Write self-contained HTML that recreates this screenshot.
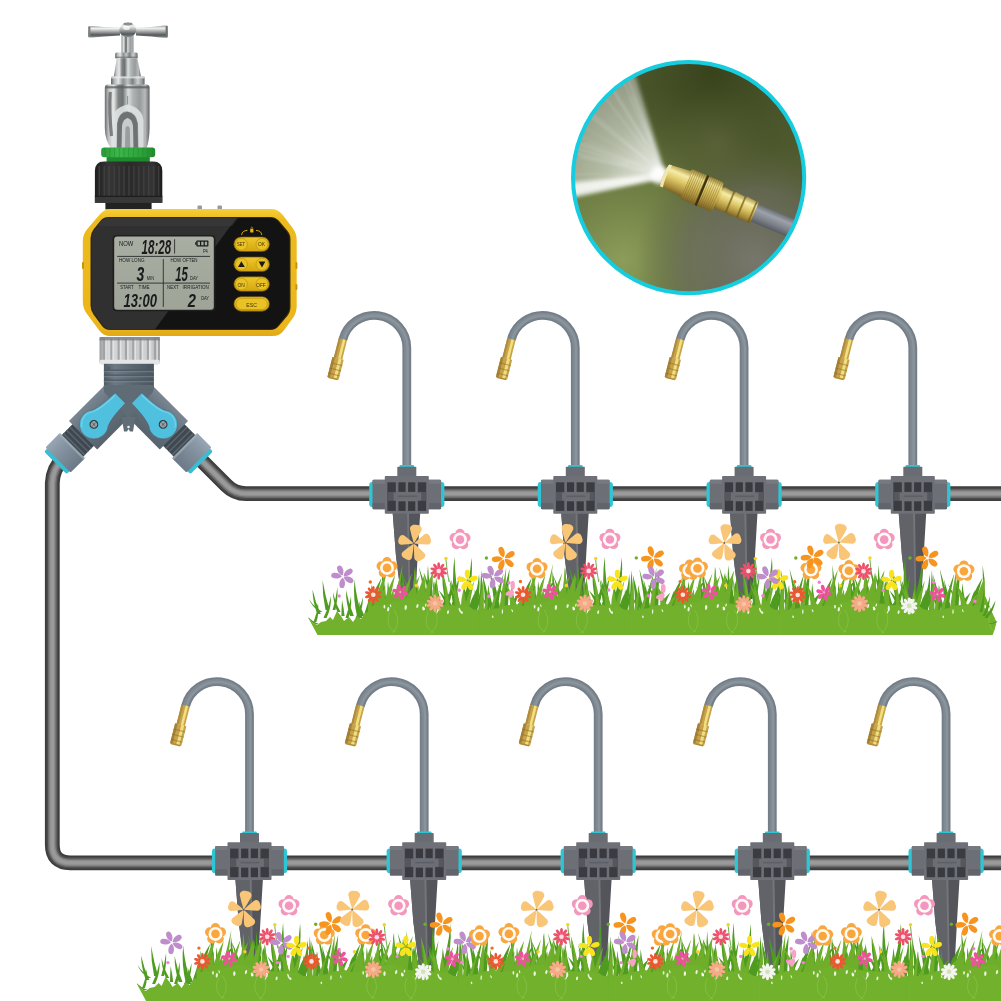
<!DOCTYPE html>
<html lang="en"><head><meta charset="utf-8"><title>Irrigation kit</title>
<style>html,body{margin:0;padding:0;background:#fff;overflow:hidden}svg{display:block}text{font-family:"Liberation Sans",sans-serif}</style>
</head><body>
<svg width="1001" height="1001" viewBox="0 0 1001 1001">
<rect width="1001" height="1001" fill="#ffffff"/>
<defs>
<g id="spr">
<path d="M-14.1,18 L13.4,18 L10.9,60 L8.5,104 L-5.4,104 L-10.9,60 Z" fill="#53555b"/>
<path d="M-14.1,18 L1.2,18 L2.4,104 L-5.4,104 L-10.9,60 Z" fill="#616369"/>
<path d="M0.2,18 L2.2,18 L3.6,104 L1.8,104 Z" fill="#73757b"/>
<path d="M0,-27 L0,-147.1 A32.5,32.5 0 0 0 -63.99,-155.13" fill="none" stroke="#747e88" stroke-width="8.8"/>
<path d="M0,-27 L0,-147.1 A32.5,32.5 0 0 0 -63.99,-155.13" fill="none" stroke="#808a93" stroke-width="5.2"/>
<path d="M0,-27 L0,-147.1 A32.5,32.5 0 0 0 -63.99,-155.13" fill="none" stroke="#8a949d" stroke-width="2.2" transform="translate(0.8,0.3)"/>
<g transform="translate(-63.99,-155.13) rotate(104.30)">
<rect x="-0.5" y="-4.3" width="20" height="8.6" fill="#c8a24a"/>
<rect x="-0.5" y="-2.6" width="20" height="2.6" fill="#f0e07e"/>
<rect x="-0.5" y="2.4" width="20" height="1.9" fill="#ad8a3e"/>
<rect x="19.2" y="-5.8" width="20.6" height="11.6" rx="0.8" fill="#c8a24a"/>
<rect x="19.2" y="-3.6" width="20.6" height="3.0" fill="#efdf80"/>
<rect x="19.2" y="3.2" width="20.6" height="2.6" fill="#a58238"/>
<rect x="24.6" y="-5.8" width="1.2" height="11.6" fill="#8c6a22" opacity="0.5"/>
<rect x="30.0" y="-5.8" width="1.2" height="11.6" fill="#8c6a22" opacity="0.5"/>
<rect x="35.2" y="-5.8" width="1.2" height="11.6" fill="#8c6a22" opacity="0.5"/>
<rect x="39" y="-4.8" width="1.6" height="9.6" fill="#b08a34"/>
</g>
<rect x="-37.6" y="-12.8" width="75.2" height="24.8" rx="3" fill="#2ec6d4"/>
<rect x="-34.3" y="-15.1" width="68.6" height="29.5" rx="1.2" fill="#6d6f76"/>
<rect x="-34.3" y="-15.1" width="68.6" height="4" rx="1.2" fill="#777980"/>
<rect x="-34.3" y="8" width="68.6" height="6.4" rx="1.2" fill="#62646b"/>
<rect x="-7.4" y="-29.8" width="14.8" height="4" rx="1.4" fill="#2ec6d4"/>
<rect x="-9.5" y="-28.2" width="19" height="12" rx="0.8" fill="#6a6c73"/>
<rect x="-22" y="-18.9" width="44" height="37.8" rx="0.8" fill="#6e7077"/>
<rect x="-19.4" y="-12.6" width="8.399999999999999" height="28.6" fill="#3a3c42"/>
<rect x="-19.4" y="-3" width="8.399999999999999" height="9" fill="#55575d"/>
<rect x="11.0" y="-12.6" width="8.399999999999999" height="28.6" fill="#3a3c42"/>
<rect x="11.0" y="-3" width="8.399999999999999" height="9" fill="#55575d"/>
<rect x="-8.4" y="-12.6" width="7.2" height="9.6" fill="#383a40"/>
<rect x="-8.4" y="6.4" width="7.2" height="9.6" fill="#383a40"/>
<rect x="1.3" y="-12.6" width="7.2" height="9.6" fill="#383a40"/>
<rect x="1.3" y="6.4" width="7.2" height="9.6" fill="#383a40"/>
<rect x="-13.2" y="-2.4" width="27.6" height="8" fill="#6c6e75"/>
<rect x="-9" y="0.6" width="19" height="1.6" fill="#5d5f66"/>
</g>
<g id="fl_pin" fill="#f9c678"><path d="M0,0 Q7.2,-3.6 13.7,-6.1 C17.1,-7.0 19.3,-3.6 18.7,0 C19.3,3.2 17.1,6.3 13.7,5.4 Q7.2,3.1 0,0 Z" transform="rotate(-81)"/><path d="M0,0 Q6.6,-3.3 12.6,-5.6 C15.8,-6.5 17.8,-3.3 17.3,0 C17.8,3.0 15.8,5.8 12.6,5.0 Q6.6,2.8 0,0 Z" transform="rotate(-17)"/><path d="M0,0 Q7.0,-3.5 13.2,-5.9 C16.5,-6.8 18.6,-3.5 18.1,0 C18.6,3.1 16.5,6.1 13.2,5.2 Q7.0,3.0 0,0 Z" transform="rotate(67)"/><path d="M0,0 Q6.7,-3.4 12.8,-5.7 C16.0,-6.6 18.0,-3.4 17.5,0 C18.0,3.0 16.0,5.9 12.8,5.0 Q6.7,2.9 0,0 Z" transform="rotate(122)"/><path d="M0,0 Q6.1,-3.0 11.6,-5.2 C14.4,-5.9 16.3,-3.0 15.8,0 C16.3,2.7 14.4,5.3 11.6,4.6 Q6.1,2.6 0,0 Z" transform="rotate(198)"/><circle r="1" fill="#6c6a55"/></g>
<g id="fl_ro"><g fill="#f9a741"><circle cx="0.0" cy="-6.1" r="4.7"/><circle cx="5.8" cy="-1.9" r="4.7"/><circle cx="3.6" cy="4.9" r="4.7"/><circle cx="-3.6" cy="4.9" r="4.7"/><circle cx="-5.8" cy="-1.9" r="4.7"/><circle r="6.2"/></g><circle r="7.0" fill="#fffaf4"/><circle r="4.3" fill="#f9a63c"/></g>
<g id="fl_rp"><g fill="#f497be"><circle cx="0.0" cy="-6.1" r="4.7"/><circle cx="5.8" cy="-1.9" r="4.7"/><circle cx="3.6" cy="4.9" r="4.7"/><circle cx="-3.6" cy="4.9" r="4.7"/><circle cx="-5.8" cy="-1.9" r="4.7"/><circle r="6.2"/></g><circle r="7.0" fill="#fffaf4"/><circle r="4.3" fill="#f397c0"/></g>
<g id="fl_pu" fill="#bf8dcc"><path d="M0.9,0 C3.5,-2.9 7.1,-3.3 10.0,-2.4 C12.2,-1.6 12.2,1.6 10.0,2.4 C7.1,3.3 3.5,2.9 0.9,0 Z" transform="rotate(-111)"/><path d="M0.9,0 C3.5,-2.9 7.1,-3.3 10.0,-2.4 C12.2,-1.6 12.2,1.6 10.0,2.4 C7.1,3.3 3.5,2.9 0.9,0 Z" transform="rotate(-36)"/><path d="M0.9,0 C3.5,-2.9 7.1,-3.3 10.0,-2.4 C12.2,-1.6 12.2,1.6 10.0,2.4 C7.1,3.3 3.5,2.9 0.9,0 Z" transform="rotate(27)"/><path d="M0.9,0 C3.5,-2.9 7.1,-3.3 10.0,-2.4 C12.2,-1.6 12.2,1.6 10.0,2.4 C7.1,3.3 3.5,2.9 0.9,0 Z" transform="rotate(95)"/><path d="M0.9,0 C3.5,-2.9 7.1,-3.3 10.0,-2.4 C12.2,-1.6 12.2,1.6 10.0,2.4 C7.1,3.3 3.5,2.9 0.9,0 Z" transform="rotate(187)"/><circle r="1.1" fill="#ffffff"/></g>
<g id="fl_do" fill="#f7941e"><path d="M1.0,0 C3.7,-3.0 7.3,-3.3 10.4,-2.4 C12.6,-1.6 12.6,1.6 10.4,2.4 C7.3,3.3 3.7,3.0 1.0,0 Z" transform="rotate(-108)"/><path d="M1.0,0 C3.7,-3.0 7.3,-3.3 10.4,-2.4 C12.6,-1.6 12.6,1.6 10.4,2.4 C7.3,3.3 3.7,3.0 1.0,0 Z" transform="rotate(-30)"/><path d="M1.0,0 C3.7,-3.0 7.3,-3.3 10.4,-2.4 C12.6,-1.6 12.6,1.6 10.4,2.4 C7.3,3.3 3.7,3.0 1.0,0 Z" transform="rotate(40)"/><path d="M1.0,0 C3.7,-3.0 7.3,-3.3 10.4,-2.4 C12.6,-1.6 12.6,1.6 10.4,2.4 C7.3,3.3 3.7,3.0 1.0,0 Z" transform="rotate(110)"/><path d="M1.0,0 C3.7,-3.0 7.3,-3.3 10.4,-2.4 C12.6,-1.6 12.6,1.6 10.4,2.4 C7.3,3.3 3.7,3.0 1.0,0 Z" transform="rotate(175)"/><circle r="1.1" fill="#ffffff"/></g>
<g id="fl_ye" fill="#f8e31c"><path d="M0.8,0 C3.2,-2.8 6.4,-3.1 9.0,-2.2 C10.9,-1.5 10.9,1.5 9.0,2.2 C6.4,3.1 3.2,2.8 0.8,0 Z" transform="rotate(-90)"/><path d="M0.8,0 C3.2,-2.8 6.4,-3.1 9.0,-2.2 C10.9,-1.5 10.9,1.5 9.0,2.2 C6.4,3.1 3.2,2.8 0.8,0 Z" transform="rotate(-15)"/><path d="M0.8,0 C3.2,-2.8 6.4,-3.1 9.0,-2.2 C10.9,-1.5 10.9,1.5 9.0,2.2 C6.4,3.1 3.2,2.8 0.8,0 Z" transform="rotate(65)"/><path d="M0.8,0 C3.2,-2.8 6.4,-3.1 9.0,-2.2 C10.9,-1.5 10.9,1.5 9.0,2.2 C6.4,3.1 3.2,2.8 0.8,0 Z" transform="rotate(118)"/><path d="M0.8,0 C3.2,-2.8 6.4,-3.1 9.0,-2.2 C10.9,-1.5 10.9,1.5 9.0,2.2 C6.4,3.1 3.2,2.8 0.8,0 Z" transform="rotate(190)"/><circle r="1.1" fill="#b9a800"/></g>
<g id="fl_ma" fill="#f0519f"><path d="M0.7,0 C2.5,-2.0 5.0,-2.2 7.1,-1.6 C8.5,-1.1 8.5,1.1 7.1,1.6 C5.0,2.2 2.5,2.0 0.7,0 Z" transform="rotate(-105)"/><path d="M0.7,0 C2.5,-2.0 5.0,-2.2 7.1,-1.6 C8.5,-1.1 8.5,1.1 7.1,1.6 C5.0,2.2 2.5,2.0 0.7,0 Z" transform="rotate(-45)"/><path d="M0.7,0 C2.5,-2.0 5.0,-2.2 7.1,-1.6 C8.5,-1.1 8.5,1.1 7.1,1.6 C5.0,2.2 2.5,2.0 0.7,0 Z" transform="rotate(15)"/><path d="M0.7,0 C2.5,-2.0 5.0,-2.2 7.1,-1.6 C8.5,-1.1 8.5,1.1 7.1,1.6 C5.0,2.2 2.5,2.0 0.7,0 Z" transform="rotate(75)"/><path d="M0.7,0 C2.5,-2.0 5.0,-2.2 7.1,-1.6 C8.5,-1.1 8.5,1.1 7.1,1.6 C5.0,2.2 2.5,2.0 0.7,0 Z" transform="rotate(135)"/><path d="M0.7,0 C2.5,-2.0 5.0,-2.2 7.1,-1.6 C8.5,-1.1 8.5,1.1 7.1,1.6 C5.0,2.2 2.5,2.0 0.7,0 Z" transform="rotate(195)"/><circle r="1.1" fill="#f7a8cf"/></g>
<g id="fl_rd" fill="#ee5632"><path d="M0.7,0 C2.6,-1.5 5.3,-1.7 7.5,-1.2 C9.1,-0.8 9.1,0.8 7.5,1.2 C5.3,1.7 2.6,1.5 0.7,0 Z" transform="rotate(-90.0)"/><path d="M0.7,0 C2.6,-1.5 5.3,-1.7 7.5,-1.2 C9.1,-0.8 9.1,0.8 7.5,1.2 C5.3,1.7 2.6,1.5 0.7,0 Z" transform="rotate(-54.0)"/><path d="M0.7,0 C2.6,-1.5 5.3,-1.7 7.5,-1.2 C9.1,-0.8 9.1,0.8 7.5,1.2 C5.3,1.7 2.6,1.5 0.7,0 Z" transform="rotate(-18.0)"/><path d="M0.7,0 C2.6,-1.5 5.3,-1.7 7.5,-1.2 C9.1,-0.8 9.1,0.8 7.5,1.2 C5.3,1.7 2.6,1.5 0.7,0 Z" transform="rotate(18.0)"/><path d="M0.7,0 C2.6,-1.5 5.3,-1.7 7.5,-1.2 C9.1,-0.8 9.1,0.8 7.5,1.2 C5.3,1.7 2.6,1.5 0.7,0 Z" transform="rotate(54.0)"/><path d="M0.7,0 C2.6,-1.5 5.3,-1.7 7.5,-1.2 C9.1,-0.8 9.1,0.8 7.5,1.2 C5.3,1.7 2.6,1.5 0.7,0 Z" transform="rotate(90.0)"/><path d="M0.7,0 C2.6,-1.5 5.3,-1.7 7.5,-1.2 C9.1,-0.8 9.1,0.8 7.5,1.2 C5.3,1.7 2.6,1.5 0.7,0 Z" transform="rotate(126.0)"/><path d="M0.7,0 C2.6,-1.5 5.3,-1.7 7.5,-1.2 C9.1,-0.8 9.1,0.8 7.5,1.2 C5.3,1.7 2.6,1.5 0.7,0 Z" transform="rotate(162.0)"/><path d="M0.7,0 C2.6,-1.5 5.3,-1.7 7.5,-1.2 C9.1,-0.8 9.1,0.8 7.5,1.2 C5.3,1.7 2.6,1.5 0.7,0 Z" transform="rotate(198.0)"/><path d="M0.7,0 C2.6,-1.5 5.3,-1.7 7.5,-1.2 C9.1,-0.8 9.1,0.8 7.5,1.2 C5.3,1.7 2.6,1.5 0.7,0 Z" transform="rotate(234.0)"/><circle r="2.3" fill="#fbe6dd"/></g>
<g id="fl_rk" fill="#ee506b"><path d="M0.7,0 C2.6,-1.5 5.3,-1.7 7.5,-1.2 C9.1,-0.8 9.1,0.8 7.5,1.2 C5.3,1.7 2.6,1.5 0.7,0 Z" transform="rotate(-90.0)"/><path d="M0.7,0 C2.6,-1.5 5.3,-1.7 7.5,-1.2 C9.1,-0.8 9.1,0.8 7.5,1.2 C5.3,1.7 2.6,1.5 0.7,0 Z" transform="rotate(-54.0)"/><path d="M0.7,0 C2.6,-1.5 5.3,-1.7 7.5,-1.2 C9.1,-0.8 9.1,0.8 7.5,1.2 C5.3,1.7 2.6,1.5 0.7,0 Z" transform="rotate(-18.0)"/><path d="M0.7,0 C2.6,-1.5 5.3,-1.7 7.5,-1.2 C9.1,-0.8 9.1,0.8 7.5,1.2 C5.3,1.7 2.6,1.5 0.7,0 Z" transform="rotate(18.0)"/><path d="M0.7,0 C2.6,-1.5 5.3,-1.7 7.5,-1.2 C9.1,-0.8 9.1,0.8 7.5,1.2 C5.3,1.7 2.6,1.5 0.7,0 Z" transform="rotate(54.0)"/><path d="M0.7,0 C2.6,-1.5 5.3,-1.7 7.5,-1.2 C9.1,-0.8 9.1,0.8 7.5,1.2 C5.3,1.7 2.6,1.5 0.7,0 Z" transform="rotate(90.0)"/><path d="M0.7,0 C2.6,-1.5 5.3,-1.7 7.5,-1.2 C9.1,-0.8 9.1,0.8 7.5,1.2 C5.3,1.7 2.6,1.5 0.7,0 Z" transform="rotate(126.0)"/><path d="M0.7,0 C2.6,-1.5 5.3,-1.7 7.5,-1.2 C9.1,-0.8 9.1,0.8 7.5,1.2 C5.3,1.7 2.6,1.5 0.7,0 Z" transform="rotate(162.0)"/><path d="M0.7,0 C2.6,-1.5 5.3,-1.7 7.5,-1.2 C9.1,-0.8 9.1,0.8 7.5,1.2 C5.3,1.7 2.6,1.5 0.7,0 Z" transform="rotate(198.0)"/><path d="M0.7,0 C2.6,-1.5 5.3,-1.7 7.5,-1.2 C9.1,-0.8 9.1,0.8 7.5,1.2 C5.3,1.7 2.6,1.5 0.7,0 Z" transform="rotate(234.0)"/><circle r="2.3" fill="#fbdfe4"/></g>
<g id="fl_sa" fill="#f8a988"><path d="M0.7,0 C2.6,-1.7 5.3,-1.9 7.5,-1.4 C9.1,-0.9 9.1,0.9 7.5,1.4 C5.3,1.9 2.6,1.7 0.7,0 Z" transform="rotate(-90.0)"/><path d="M0.7,0 C2.6,-1.7 5.3,-1.9 7.5,-1.4 C9.1,-0.9 9.1,0.9 7.5,1.4 C5.3,1.9 2.6,1.7 0.7,0 Z" transform="rotate(-54.0)"/><path d="M0.7,0 C2.6,-1.7 5.3,-1.9 7.5,-1.4 C9.1,-0.9 9.1,0.9 7.5,1.4 C5.3,1.9 2.6,1.7 0.7,0 Z" transform="rotate(-18.0)"/><path d="M0.7,0 C2.6,-1.7 5.3,-1.9 7.5,-1.4 C9.1,-0.9 9.1,0.9 7.5,1.4 C5.3,1.9 2.6,1.7 0.7,0 Z" transform="rotate(18.0)"/><path d="M0.7,0 C2.6,-1.7 5.3,-1.9 7.5,-1.4 C9.1,-0.9 9.1,0.9 7.5,1.4 C5.3,1.9 2.6,1.7 0.7,0 Z" transform="rotate(54.0)"/><path d="M0.7,0 C2.6,-1.7 5.3,-1.9 7.5,-1.4 C9.1,-0.9 9.1,0.9 7.5,1.4 C5.3,1.9 2.6,1.7 0.7,0 Z" transform="rotate(90.0)"/><path d="M0.7,0 C2.6,-1.7 5.3,-1.9 7.5,-1.4 C9.1,-0.9 9.1,0.9 7.5,1.4 C5.3,1.9 2.6,1.7 0.7,0 Z" transform="rotate(126.0)"/><path d="M0.7,0 C2.6,-1.7 5.3,-1.9 7.5,-1.4 C9.1,-0.9 9.1,0.9 7.5,1.4 C5.3,1.9 2.6,1.7 0.7,0 Z" transform="rotate(162.0)"/><path d="M0.7,0 C2.6,-1.7 5.3,-1.9 7.5,-1.4 C9.1,-0.9 9.1,0.9 7.5,1.4 C5.3,1.9 2.6,1.7 0.7,0 Z" transform="rotate(198.0)"/><path d="M0.7,0 C2.6,-1.7 5.3,-1.9 7.5,-1.4 C9.1,-0.9 9.1,0.9 7.5,1.4 C5.3,1.9 2.6,1.7 0.7,0 Z" transform="rotate(234.0)"/><circle r="2.3" fill="#f3c6a0"/></g>
<g id="fl_wh" fill="#f4f4f0"><path d="M0.7,0 C2.6,-1.7 5.2,-1.9 7.3,-1.4 C8.9,-0.9 8.9,0.9 7.3,1.4 C5.2,1.9 2.6,1.7 0.7,0 Z" transform="rotate(-90.0)"/><path d="M0.7,0 C2.6,-1.7 5.2,-1.9 7.3,-1.4 C8.9,-0.9 8.9,0.9 7.3,1.4 C5.2,1.9 2.6,1.7 0.7,0 Z" transform="rotate(-54.0)"/><path d="M0.7,0 C2.6,-1.7 5.2,-1.9 7.3,-1.4 C8.9,-0.9 8.9,0.9 7.3,1.4 C5.2,1.9 2.6,1.7 0.7,0 Z" transform="rotate(-18.0)"/><path d="M0.7,0 C2.6,-1.7 5.2,-1.9 7.3,-1.4 C8.9,-0.9 8.9,0.9 7.3,1.4 C5.2,1.9 2.6,1.7 0.7,0 Z" transform="rotate(18.0)"/><path d="M0.7,0 C2.6,-1.7 5.2,-1.9 7.3,-1.4 C8.9,-0.9 8.9,0.9 7.3,1.4 C5.2,1.9 2.6,1.7 0.7,0 Z" transform="rotate(54.0)"/><path d="M0.7,0 C2.6,-1.7 5.2,-1.9 7.3,-1.4 C8.9,-0.9 8.9,0.9 7.3,1.4 C5.2,1.9 2.6,1.7 0.7,0 Z" transform="rotate(90.0)"/><path d="M0.7,0 C2.6,-1.7 5.2,-1.9 7.3,-1.4 C8.9,-0.9 8.9,0.9 7.3,1.4 C5.2,1.9 2.6,1.7 0.7,0 Z" transform="rotate(126.0)"/><path d="M0.7,0 C2.6,-1.7 5.2,-1.9 7.3,-1.4 C8.9,-0.9 8.9,0.9 7.3,1.4 C5.2,1.9 2.6,1.7 0.7,0 Z" transform="rotate(162.0)"/><path d="M0.7,0 C2.6,-1.7 5.2,-1.9 7.3,-1.4 C8.9,-0.9 8.9,0.9 7.3,1.4 C5.2,1.9 2.6,1.7 0.7,0 Z" transform="rotate(198.0)"/><path d="M0.7,0 C2.6,-1.7 5.2,-1.9 7.3,-1.4 C8.9,-0.9 8.9,0.9 7.3,1.4 C5.2,1.9 2.6,1.7 0.7,0 Z" transform="rotate(234.0)"/><circle r="2.3" fill="#cfe3b8"/></g>
<g id="gtile">
<path d="M5.0,614.5 Q5.1,594.5 2.3,574.6 Q8.8,595.5 9.9,614.5 Z M6.8,614.3 Q5.8,603.9 -0.5,593.5 Q8.6,604.9 10.6,614.3 Z M12.5,613.1 Q15.6,593.2 23.5,573.4 Q19.0,594.2 17.0,613.1 Z M15.1,612.4 Q12.8,590.5 8.9,568.7 Q16.0,591.5 19.3,612.4 Z M16.9,612.0 Q15.8,595.5 13.0,578.9 Q18.5,596.5 20.5,612.0 Z M19.4,610.9 Q23.5,589.9 29.4,568.8 Q28.4,590.9 26.0,610.9 Z M24.1,610.1 Q24.5,600.6 29.3,591.1 Q27.4,601.6 27.9,610.1 Z M26.1,609.7 Q22.8,596.8 17.2,583.8 Q25.5,597.8 29.7,609.7 Z M28.1,609.3 Q30.7,600.9 39.9,592.5 Q35.0,601.9 33.8,609.3 Z M36.9,609.0 Q42.0,593.3 51.6,577.7 Q46.9,594.3 43.4,609.0 Z M40.8,609.1 Q44.5,598.7 50.0,588.2 Q48.6,599.7 46.2,609.1 Z M47.0,609.1 Q46.7,597.8 49.8,586.5 Q50.3,598.8 51.8,609.1 Z M52.9,608.6 Q52.0,586.7 51.8,564.9 Q55.3,587.7 57.2,608.6 Z M60.5,606.6 Q63.8,592.8 74.3,578.9 Q68.3,593.8 66.6,606.6 Z M70.9,604.1 Q70.7,592.4 68.2,580.8 Q74.0,593.4 75.3,604.1 Z M78.3,603.4 Q77.8,589.0 72.5,574.6 Q80.5,590.0 82.0,603.4 Z M95.5,607.0 Q93.7,586.8 88.8,566.7 Q96.7,587.8 99.5,607.0 Z M95.1,607.2 Q98.7,598.2 102.3,589.1 Q103.4,599.2 101.4,607.2 Z M98.6,608.1 Q98.9,590.5 93.4,572.9 Q103.9,591.5 105.2,608.1 Z M101.5,608.6 Q103.8,594.8 104.7,581.1 Q109.1,595.8 108.5,608.6 Z M108.3,609.1 Q114.2,600.1 123.1,591.2 Q118.9,601.1 114.6,609.1 Z M111.1,609.1 Q112.7,600.5 120.0,591.9 Q116.1,601.5 115.6,609.1 Z M116.4,608.9 Q114.4,599.6 108.8,590.3 Q118.9,600.6 122.4,608.9 Z M120.6,608.9 Q124.4,591.7 129.7,574.5 Q127.4,592.7 124.5,608.9 Z M122.1,608.9 Q123.4,594.3 121.0,579.8 Q127.5,595.3 127.6,608.9 Z M123.5,608.9 Q121.5,593.3 119.2,577.7 Q124.5,594.3 127.5,608.9 Z M137.1,611.8 Q141.0,598.9 148.1,585.9 Q145.5,599.9 143.1,611.8 Z M139.1,612.1 Q138.1,603.3 132.2,594.5 Q141.0,604.3 143.0,612.1 Z M139.8,612.7 Q143.9,603.5 151.3,594.2 Q148.9,604.5 146.4,612.7 Z M143.7,613.4 Q144.1,601.2 144.8,588.9 Q147.2,602.2 147.9,613.4 Z M147.9,614.3 Q150.5,592.1 151.2,570.0 Q153.8,593.1 152.3,614.3 Z M125.3,610.0 Q121.1,583.2 124.5,556.5 Q125.2,584.2 130.7,610.0 Z M129.9,610.0 Q139.9,583.8 141.5,557.5 Q143.8,584.8 135.1,610.0 Z M117.6,608.0 Q111.3,589.5 112.5,571.0 Q114.9,590.5 122.4,608.0 Z M75.5,608.0 Q70.8,589.5 72.5,571.0 Q74.5,590.5 80.5,608.0 Z M87.6,608.0 Q83.3,587.5 84.5,567.0 Q86.9,588.5 92.4,608.0 Z M92.7,607.0 Q100.6,590.0 102.0,573.0 Q104.1,591.0 97.3,607.0 Z M107.9,606.0 Q104.7,592.0 106.0,578.0 Q107.9,593.0 112.1,606.0 Z M11.6,616.0 Q6.6,600.5 8.0,585.0 Q10.2,601.5 16.4,616.0 Z M17.6,615.0 Q25.6,597.5 27.0,580.0 Q29.2,598.5 22.4,615.0 Z M33.8,614.0 Q29.9,598.5 31.5,583.0 Q33.2,599.5 38.2,614.0 Z M45.8,612.0 Q52.7,598.0 54.0,584.0 Q56.0,599.0 50.2,612.0 Z M59.8,610.0 Q56.2,595.5 58.0,581.0 Q59.5,596.5 64.2,610.0 Z M140.7,610.0 Q147.6,592.0 149.0,574.0 Q151.1,593.0 145.3,610.0 Z M0.8,614.0 Q-3.3,600.0 -2.0,586.0 Q-0.0,601.0 5.2,614.0 Z M100.9,608.0 Q95.7,586.5 98.0,565.0 Q98.9,587.5 105.1,608.0 Z M68.0,608.0 Q68.8,597.0 66.0,586.0 Q71.8,598.0 72.0,608.0 Z M38.0,612.0 Q38.8,601.0 44.0,590.0 Q41.8,602.0 42.0,612.0 Z M114.0,606.0 Q119.8,595.0 121.0,584.0 Q122.8,596.0 118.0,606.0 Z M135.0,608.0 Q132.3,595.0 134.0,582.0 Q135.3,596.0 139.0,608.0 Z " fill="#4e9b20"/>
<path d="M-2.0,614.4 Q-0.4,596.3 3.1,578.2 Q3.8,597.3 3.6,614.4 Z M3.0,614.6 Q5.4,599.7 8.8,584.8 Q8.3,600.7 6.8,614.6 Z M8.7,614.0 Q11.8,600.4 19.5,586.7 Q14.7,601.4 12.6,614.0 Z M18.8,611.2 Q21.5,589.4 26.0,567.6 Q25.5,590.4 24.1,611.2 Z M30.2,609.0 Q30.4,595.8 24.4,582.5 Q35.3,596.8 36.7,609.0 Z M33.9,608.9 Q31.4,599.7 26.7,590.4 Q35.0,600.7 38.6,608.9 Z M35.3,608.9 Q38.3,600.6 48.8,592.3 Q42.4,601.6 40.7,608.9 Z M42.4,609.1 Q47.8,589.4 57.3,569.6 Q52.7,590.4 48.9,609.1 Z M47.3,609.0 Q49.8,597.3 55.4,585.5 Q55.0,598.3 54.2,609.0 Z M52.4,608.5 Q56.3,591.4 65.2,574.4 Q61.1,592.4 58.8,608.5 Z M56.2,607.7 Q59.5,598.4 63.4,589.2 Q64.5,599.4 62.9,607.7 Z M58.9,607.2 Q62.7,596.6 68.2,586.0 Q66.3,597.6 63.6,607.2 Z M63.4,606.0 Q67.3,584.9 72.8,563.8 Q70.3,585.9 67.5,606.0 Z M67.2,605.0 Q66.9,591.9 70.4,578.8 Q69.9,592.9 71.3,605.0 Z M69.2,604.4 Q74.2,588.7 82.1,573.1 Q78.0,589.7 74.3,604.4 Z M73.7,603.6 Q77.3,593.7 86.0,583.8 Q80.9,594.7 78.6,603.6 Z M77.2,603.4 Q81.2,589.3 89.9,575.2 Q85.2,590.3 82.5,603.4 Z M81.4,603.7 Q82.8,585.2 85.2,566.6 Q86.3,586.2 86.1,603.7 Z M84.9,604.2 Q85.5,594.7 88.5,585.1 Q88.8,595.7 89.3,604.2 Z M85.5,604.6 Q88.5,588.5 95.1,572.4 Q93.5,589.5 92.2,604.6 Z M88.8,605.3 Q91.2,589.9 96.0,574.4 Q95.1,590.9 94.0,605.3 Z M91.6,606.3 Q94.7,588.2 104.0,570.0 Q99.9,589.2 98.4,606.3 Z M104.1,608.8 Q103.3,593.3 102.4,577.8 Q106.5,594.3 108.4,608.8 Z M105.9,608.9 Q105.7,592.9 106.3,576.8 Q108.4,593.9 109.5,608.9 Z M115.4,609.0 Q115.8,589.1 111.6,569.2 Q118.9,590.1 119.5,609.0 Z M125.1,609.2 Q124.4,596.6 123.5,584.1 Q129.0,597.6 131.3,609.2 Z M128.4,609.5 Q124.6,596.5 119.1,583.4 Q127.9,597.5 132.8,609.5 Z M130.7,610.2 Q130.7,599.4 133.5,588.7 Q135.8,600.4 137.4,610.2 Z M133.8,610.7 Q137.0,595.6 144.3,580.4 Q140.8,596.6 138.7,610.7 Z " fill="#6eae2b"/>
<path d="M-0.3,635 L-0.3,610.3 L0.0,610.3 L2.5,609.8 L5.0,610.9 L7.5,609.6 L10.0,610.2 L12.5,609.4 L15.0,608.2 L17.5,608.4 L20.0,606.7 L22.5,606.8 L25.0,605.4 L27.5,605.0 L30.0,605.2 L32.5,605.8 L35.0,604.2 L37.5,604.4 L40.1,605.2 L42.6,605.9 L45.1,605.3 L47.6,604.9 L50.1,606.0 L52.6,604.0 L55.1,605.3 L57.6,603.7 L60.1,602.8 L62.6,602.1 L65.1,601.8 L67.6,602.1 L70.1,600.1 L72.6,600.3 L75.1,600.0 L77.6,599.2 L80.1,599.5 L82.6,598.7 L85.1,599.0 L87.6,599.8 L90.1,601.3 L92.6,601.5 L95.1,602.0 L97.6,603.2 L100.1,603.6 L102.6,603.8 L105.1,605.2 L107.6,605.3 L110.1,604.5 L112.6,605.2 L115.2,605.1 L117.7,605.7 L120.2,605.3 L122.7,604.4 L125.2,605.9 L127.7,604.3 L130.2,605.3 L132.7,606.4 L135.2,605.8 L137.7,607.1 L140.2,606.9 L142.7,608.9 L145.2,609.8 L147.7,610.0 L150.2,610.3 L150.5,610.3 L150.5,635 Z" fill="#71b12c"/>
<ellipse cx="54.4" cy="606.7" rx="0.9" ry="1.9" fill="#ffffff" opacity="0.85" transform="rotate(0.2 54.4 606.7)"/>
<ellipse cx="32.0" cy="610.7" rx="0.6" ry="1.6" fill="#ffffff" opacity="0.85" transform="rotate(-24.6 32.0 610.7)"/>
<ellipse cx="60.6" cy="605.7" rx="0.6" ry="1.6" fill="#ffffff" opacity="0.85" transform="rotate(-16.0 60.6 605.7)"/>
<ellipse cx="87.4" cy="606.0" rx="1.1" ry="2.1" fill="#ffffff" opacity="0.85" transform="rotate(13.0 87.4 606.0)"/>
<ellipse cx="129.8" cy="610.1" rx="0.8" ry="2.6" fill="#ffffff" opacity="0.85" transform="rotate(-21.0 129.8 610.1)"/>
<ellipse cx="107.4" cy="611.4" rx="0.6" ry="2.4" fill="#ffffff" opacity="0.85" transform="rotate(23.5 107.4 611.4)"/>
<ellipse cx="93.5" cy="609.0" rx="1.2" ry="1.4" fill="#ffffff" opacity="0.85" transform="rotate(1.4 93.5 609.0)"/>
<ellipse cx="75.7" cy="607.5" rx="1.2" ry="2.4" fill="#ffffff" opacity="0.85" transform="rotate(5.0 75.7 607.5)"/>
<ellipse cx="131.7" cy="612.5" rx="1.1" ry="1.5" fill="#ffffff" opacity="0.85" transform="rotate(-28.1 131.7 612.5)"/>
<ellipse cx="22.2" cy="611.6" rx="0.7" ry="2.4" fill="#ffffff" opacity="0.85" transform="rotate(3.5 22.2 611.6)"/>
<ellipse cx="93.5" cy="608.3" rx="1.1" ry="1.9" fill="#ffffff" opacity="0.85" transform="rotate(-29.8 93.5 608.3)"/>
<ellipse cx="118.0" cy="612.2" rx="1.0" ry="1.9" fill="#ffffff" opacity="0.85" transform="rotate(9.6 118.0 612.2)"/>
<ellipse cx="12.5" cy="616.8" rx="0.8" ry="1.3" fill="#ffffff" opacity="0.85" transform="rotate(-14.1 12.5 616.8)"/>
<ellipse cx="108.2" cy="608.4" rx="1.1" ry="2.6" fill="#ffffff" opacity="0.85" transform="rotate(-0.4 108.2 608.4)"/>
<ellipse cx="58.2" cy="609.3" rx="1.1" ry="2.3" fill="#ffffff" opacity="0.85" transform="rotate(7.0 58.2 609.3)"/>
<ellipse cx="95.7" cy="605.1" rx="0.7" ry="1.6" fill="#ffffff" opacity="0.85" transform="rotate(14.6 95.7 605.1)"/>
<path d="M60,612 C56,620 58,630 66,632 M64,610 C70,618 68,628 62,633 M98,612 C94,622 97,630 104,633 M104,610 C110,618 107,629 100,634" fill="none" stroke="#a4d66a" stroke-width="0.7" opacity="0.5"/>
</g>
<clipPath id="t0clip"><rect x="38" y="520" width="130" height="130"/></clipPath>
<clipPath id="r1clip"><path d="M-40,500 L652,500 L655,596 Q661,610 666.5,622 Q665,630 662.5,635.5 L-40,636 Z"/></clipPath>
<g id="gend">
<path d="M-12.8,614.0 Q-17.3,601.8 -17.5,589.5 Q-14.6,602.8 -9.2,614.0 Z M-4.5,610.0 Q-7.7,595.0 -7.5,580.0 Q-4.7,596.0 -0.5,610.0 Z M-10.5,612.0 Q-18.9,605.5 -21.0,599.0 Q-16.6,606.5 -7.5,612.0 Z M-15.2,624.0 Q-21.2,620.5 -21.8,617.0 Q-17.9,621.5 -10.8,624.0 Z M2.6,610.0 Q5.9,598.5 7.5,587.0 Q8.0,599.5 5.4,610.0 Z M7.4,612.0 Q3.0,602.0 3.0,592.0 Q5.4,603.0 10.6,612.0 Z M20.1,616.0 Q15.9,603.0 16.0,590.0 Q18.7,604.0 23.9,616.0 Z M27.4,618.0 Q22.7,598.8 24.5,579.5 Q26.6,599.8 32.6,618.0 Z M15.5,618.0 Q19.6,607.0 21.0,596.0 Q21.9,608.0 18.5,618.0 Z M34.3,614.0 Q40.0,599.0 42.0,584.0 Q42.5,600.0 37.7,614.0 Z M-6.5,618.0 Q-0.9,607.0 1.0,596.0 Q1.4,608.0 -3.5,618.0 Z M11.4,616.0 Q11.5,608.0 12.0,600.0 Q13.9,609.0 14.6,616.0 Z M25.5,618.0 Q30.6,607.5 33.0,597.0 Q32.9,608.5 28.5,618.0 Z M-16.4,622.0 Q-12.8,612.5 -12.0,603.0 Q-10.7,613.5 -13.6,622.0 Z M31.5,616.0 Q29.1,608.5 29.0,601.0 Q31.4,609.5 34.5,616.0 Z" fill="#4f9c21"/>
<path d="M40.5,635 L-12.5,635 C-15,630 -18,625 -21.5,618 C-18,622 -15,625 -12,624.5 L-9,622 L-4,621 L0,617 L3,620 L7,611 L11,616 L14,621 L19,617 L23,622 L27,616 L31,619 L35,613 L40.5,611 Z" fill="#71b12c"/>
</g>
<linearGradient id="chrome" x1="0" x2="1" y1="0" y2="0">
<stop offset="0" stop-color="#6a6d6e"/><stop offset="0.09" stop-color="#c4c7c7"/><stop offset="0.2" stop-color="#e6e8e8"/>
<stop offset="0.3" stop-color="#808384"/><stop offset="0.4" stop-color="#6f7273"/><stop offset="0.52" stop-color="#dcdfdf"/><stop offset="0.63" stop-color="#b0b3b4"/>
<stop offset="0.78" stop-color="#989b9c"/><stop offset="0.9" stop-color="#b8bbbb"/><stop offset="1" stop-color="#626566"/></linearGradient>
<linearGradient id="chromeV" x1="0" x2="0" y1="0" y2="1">
<stop offset="0" stop-color="#9a9d9e"/><stop offset="0.22" stop-color="#f0f2f2"/><stop offset="0.5" stop-color="#a3a6a7"/>
<stop offset="0.78" stop-color="#55585a"/><stop offset="1" stop-color="#8d9091"/></linearGradient>
<linearGradient id="chrome2" x1="0" x2="1" y1="0" y2="0">
<stop offset="0" stop-color="#636667"/><stop offset="0.1" stop-color="#b3b6b6"/><stop offset="0.22" stop-color="#e4e6e6"/>
<stop offset="0.36" stop-color="#8d9091"/><stop offset="0.5" stop-color="#c0c3c3"/><stop offset="0.64" stop-color="#7e8182"/>
<stop offset="0.8" stop-color="#cccfcf"/><stop offset="0.93" stop-color="#929596"/><stop offset="1" stop-color="#606364"/></linearGradient>
<linearGradient id="nutg" x1="0" x2="1" y1="0" y2="0">
<stop offset="0" stop-color="#1f1f1f"/><stop offset="0.2" stop-color="#353535"/><stop offset="0.5" stop-color="#2a2a2a"/><stop offset="0.85" stop-color="#333"/><stop offset="1" stop-color="#1c1c1c"/></linearGradient>
<linearGradient id="greeng" x1="0" x2="1" y1="0" y2="0">
<stop offset="0" stop-color="#2a9a36"/><stop offset="0.3" stop-color="#3cb54a"/><stop offset="0.7" stop-color="#2fa63c"/><stop offset="1" stop-color="#238a2e"/></linearGradient>
<linearGradient id="yel" x1="0" x2="0" y1="0" y2="1">
<stop offset="0" stop-color="#f6cf3c"/><stop offset="0.08" stop-color="#edbb1e"/><stop offset="0.93" stop-color="#ecb51b"/><stop offset="1" stop-color="#e0a916"/></linearGradient>
<linearGradient id="silv" x1="0" x2="1" y1="0" y2="0">
<stop offset="0" stop-color="#9c9d9f"/><stop offset="0.15" stop-color="#d9dadc"/><stop offset="0.5" stop-color="#c6c7c9"/><stop offset="0.85" stop-color="#d2d3d5"/><stop offset="1" stop-color="#98999b"/></linearGradient>
<linearGradient id="neckg" x1="0" x2="1" y1="0" y2="0">
<stop offset="0" stop-color="#505c65"/><stop offset="0.22" stop-color="#6d7a85"/><stop offset="0.55" stop-color="#5b6872"/><stop offset="1" stop-color="#4b565f"/></linearGradient>
<linearGradient id="armg" x1="0" x2="0" y1="0" y2="1">
<stop offset="0" stop-color="#7a8792"/><stop offset="0.35" stop-color="#67747f"/><stop offset="1" stop-color="#57636d"/></linearGradient>
<linearGradient id="capg" x1="0" x2="0" y1="0" y2="1">
<stop offset="0" stop-color="#98a6b2"/><stop offset="0.4" stop-color="#8391a0"/><stop offset="1" stop-color="#6c7986"/></linearGradient>
<linearGradient id="btn" x1="0" x2="0" y1="0" y2="1">
<stop offset="0" stop-color="#efc82c"/><stop offset="1" stop-color="#d4a510"/></linearGradient>
<linearGradient id="lcdg" x1="0" x2="0" y1="0" y2="1">
<stop offset="0" stop-color="#a9aea2"/><stop offset="1" stop-color="#9fa498"/></linearGradient>
<g id="yarm">
<rect x="96.5" y="-16" width="5.4" height="32" rx="2" fill="#35bfd6"/>
<rect x="60" y="-15.2" width="20" height="30.4" fill="#3f4850"/>
<rect x="65.5" y="-15.2" width="1.6" height="30.4" fill="#59646d"/>
<rect x="70" y="-15.2" width="1.6" height="30.4" fill="#59646d"/>
<rect x="74.5" y="-15.2" width="1.6" height="30.4" fill="#59646d"/>
<rect x="77.5" y="-18" width="20.5" height="35.6" rx="1.5" fill="url(#capg)"/>
<rect x="77.5" y="-18" width="2.2" height="35.6" fill="#a3b0bb" opacity="0.7"/>
<path d="M0,-20 L62.7,-20 L62.7,20 L22,20 L0,20 Z" fill="url(#armg)"/>
</g>
<g id="ylever">
<path d="M10,-7.3 L10,7.3 C20,7.6 30,8 38.1,11.1 A14.5,14.5 0 1 0 38.1,-11.1 C30,-8 20,-7.6 10,-7.3 Z" fill="#4fc0de" stroke="#5d4c55" stroke-width="0.5"/>
<path d="M12,-5.5 C22,-5.8 32,-6.5 39,-9.5 A12.5,12.5 0 0 1 58,-6" fill="none" stroke="#7fd6ec" stroke-width="1.2" opacity="0.8"/>
<circle cx="47.4" cy="0" r="4.4" fill="#2f373d"/><circle cx="47.4" cy="0" r="3.2" fill="#9aa5ab"/>
<path d="M45.2,0 L49.6,0 M47.4,-2.2 L47.4,2.2" stroke="#4a545b" stroke-width="0.9"/>
</g>
<clipPath id="circ"><circle cx="688.6" cy="177.7" r="115.6"/></clipPath>
<radialGradient id="bg1" cx="0.22" cy="0.85" r="0.75"><stop offset="0" stop-color="#8c9d5a"/><stop offset="0.45" stop-color="#728246" stop-opacity="0.85"/><stop offset="1" stop-color="#4a5628" stop-opacity="0"/></radialGradient>
<radialGradient id="bg2" cx="0.78" cy="0.85" r="0.5"><stop offset="0" stop-color="#77766c"/><stop offset="0.6" stop-color="#6a6b5c" stop-opacity="0.7"/><stop offset="1" stop-color="#5a5f40" stop-opacity="0"/></radialGradient>
<radialGradient id="bg3" cx="0.62" cy="0.36" r="0.24"><stop offset="0" stop-color="#62683f" stop-opacity="0.6"/><stop offset="1" stop-color="#565f34" stop-opacity="0"/></radialGradient>
<radialGradient id="bg4" cx="0.6" cy="0.05" r="0.6"><stop offset="0" stop-color="#38431c"/><stop offset="1" stop-color="#46522a" stop-opacity="0"/></radialGradient>
<radialGradient id="spr1" gradientUnits="userSpaceOnUse" cx="665" cy="175" r="100"><stop offset="0" stop-color="#ffffff" stop-opacity="1"/><stop offset="0.2" stop-color="#f2f4f0" stop-opacity="0.85"/><stop offset="0.6" stop-color="#dde1da" stop-opacity="0.66"/><stop offset="1" stop-color="#ccd0c8" stop-opacity="0.58"/></radialGradient>
<linearGradient id="brass" x1="0" x2="0" y1="0" y2="1"><stop offset="0" stop-color="#9a8438"/><stop offset="0.2" stop-color="#f0e292"/><stop offset="0.45" stop-color="#d9c362"/><stop offset="0.75" stop-color="#b0933e"/><stop offset="1" stop-color="#786226"/></linearGradient>
<linearGradient id="brass2" x1="0" x2="0" y1="0" y2="1"><stop offset="0" stop-color="#a48e40"/><stop offset="0.25" stop-color="#f6eca6"/><stop offset="0.5" stop-color="#dfca6a"/><stop offset="0.8" stop-color="#ab903c"/><stop offset="1" stop-color="#745e24"/></linearGradient>
<linearGradient id="hose" x1="0" x2="0" y1="0" y2="1"><stop offset="0" stop-color="#6a6e76"/><stop offset="0.3" stop-color="#9da1a9"/><stop offset="0.7" stop-color="#7a7e87"/><stop offset="1" stop-color="#565a62"/></linearGradient>
<filter id="blur2" x="-20%" y="-20%" width="140%" height="140%"><feGaussianBlur stdDeviation="2.2"/></filter>
<filter id="blur1" x="-20%" y="-20%" width="140%" height="140%"><feGaussianBlur stdDeviation="0.9"/></filter>
</defs>
<g id="pipes">
<path d="M63,459 Q53,468 52.3,483 L52.3,844.8 Q52.3,862.8 70.3,862.8 L1003,862.8" fill="none" stroke="#3d3d3e" stroke-width="14.8" stroke-linejoin="round"/>
<path d="M63,459 Q53,468 52.3,483 L52.3,844.8 Q52.3,862.8 70.3,862.8 L1003,862.8" fill="none" stroke="#4b4b4c" stroke-width="11.6" stroke-linejoin="round"/>
<path d="M63,459 Q53,468 52.3,483 L52.3,844.8 Q52.3,862.8 70.3,862.8 L1003,862.8" fill="none" stroke="#6c6c6d" stroke-width="8.8" stroke-linejoin="round"/>
<path d="M63,459 Q53,468 52.3,483 L52.3,844.8 Q52.3,862.8 70.3,862.8 L1003,862.8" fill="none" stroke="#8b8b8c" stroke-width="6.0" stroke-linejoin="round"/>
<path d="M63,459 Q53,468 52.3,483 L52.3,844.8 Q52.3,862.8 70.3,862.8 L1003,862.8" fill="none" stroke="#9a9a9b" stroke-width="3.4" stroke-linejoin="round"/>
<path d="M200,459 L226.5,485.5 Q234.5,493.6 246,493.6 L1003,493.6" fill="none" stroke="#3d3d3e" stroke-width="14.8" stroke-linejoin="round"/>
<path d="M200,459 L226.5,485.5 Q234.5,493.6 246,493.6 L1003,493.6" fill="none" stroke="#4b4b4c" stroke-width="11.6" stroke-linejoin="round"/>
<path d="M200,459 L226.5,485.5 Q234.5,493.6 246,493.6 L1003,493.6" fill="none" stroke="#6c6c6d" stroke-width="8.8" stroke-linejoin="round"/>
<path d="M200,459 L226.5,485.5 Q234.5,493.6 246,493.6 L1003,493.6" fill="none" stroke="#8b8b8c" stroke-width="6.0" stroke-linejoin="round"/>
<path d="M200,459 L226.5,485.5 Q234.5,493.6 246,493.6 L1003,493.6" fill="none" stroke="#9a9a9b" stroke-width="3.4" stroke-linejoin="round"/>
</g>
<use href="#spr" x="406.8" y="494.9"/>
<use href="#spr" x="575.3" y="494.9"/>
<use href="#spr" x="744.1" y="494.9"/>
<use href="#spr" x="912.8" y="494.9"/>
<use href="#spr" x="249.5" y="861.2"/>
<use href="#spr" x="424.2" y="861.2"/>
<use href="#spr" x="598.2" y="861.2"/>
<use href="#spr" x="772.3" y="861.2"/>
<use href="#spr" x="946.1" y="861.2"/>
<g transform="translate(330,0)" clip-path="url(#r1clip)">
<use href="#gend"/>
<use href="#gtile" x="0.0" clip-path="url(#t0clip)"/>
<use href="#gtile" x="150.2"/>
<use href="#gtile" x="300.4"/>
<use href="#gtile" x="450.6"/>
<use href="#gtile" x="600.8"/>
</g>
<path d="M984.4,618.0 Q991.8,609.2 995.5,600.5 Q994.2,610.2 987.6,618.0 Z M987.4,624.0 Q993.8,622.5 997.6,621.0 Q996.2,623.5 990.6,624.0 Z M982.5,616.0 Q987.6,606.0 990.0,596.0 Q989.9,607.0 985.5,616.0 Z M979.5,612.0 Q982.6,601.0 984.0,590.0 Q984.9,602.0 982.5,612.0 Z" fill="#4f9c21"/>
<g>
<circle cx="370.3" cy="582" r="1.7" fill="#f26c1d"/>
<circle cx="339.2" cy="596" r="1.7" fill="#f47fda"/>
<circle cx="416.3" cy="585.5" r="1.7" fill="#f5d21f"/>
<path d="M446.0,560.0 q0.8,10 3,22" fill="none" stroke="#4e9b20" stroke-width="0.8"/>
<circle cx="446" cy="558.5" r="1.7" fill="#f5d21f"/>
<circle cx="459.2" cy="590.3" r="1.7" fill="#f47fda"/>
<circle cx="486.4" cy="558" r="1.7" fill="#6eae2b"/>
<circle cx="488.8" cy="596.2" r="1.7" fill="#f47fda"/>
<circle cx="509" cy="582.7" r="1.7" fill="#f47fda"/>
<circle cx="520.4" cy="581.5" r="1.7" fill="#f26c1d"/>
<circle cx="566.4" cy="585.5" r="1.7" fill="#f5d21f"/>
<path d="M595.7,560.0 q0.8,10 3,22" fill="none" stroke="#4e9b20" stroke-width="0.8"/>
<circle cx="595.7" cy="558.5" r="1.7" fill="#f5d21f"/>
<circle cx="608.7" cy="590" r="1.7" fill="#f47fda"/>
<circle cx="636.3" cy="557.9" r="1.7" fill="#6eae2b"/>
<circle cx="648.5" cy="595.8" r="1.7" fill="#f47fda"/>
<circle cx="680.2" cy="581.6" r="1.7" fill="#f26c1d"/>
<circle cx="725.9" cy="585.5" r="1.7" fill="#f5d21f"/>
<path d="M755.3,560.1 q0.8,10 3,22" fill="none" stroke="#4e9b20" stroke-width="0.8"/>
<circle cx="755.3" cy="558.6" r="1.7" fill="#f5d21f"/>
<circle cx="762.9" cy="595.8" r="1.7" fill="#f47fda"/>
<circle cx="795.8" cy="558" r="1.7" fill="#6eae2b"/>
<circle cx="794.7" cy="581.8" r="1.7" fill="#f26c1d"/>
<circle cx="819.2" cy="582.3" r="1.7" fill="#f47fda"/>
<circle cx="840.4" cy="585.8" r="1.7" fill="#f5d21f"/>
<path d="M869.9,559.5 q0.8,10 3,22" fill="none" stroke="#4e9b20" stroke-width="0.8"/>
<circle cx="869.9" cy="558" r="1.7" fill="#f5d21f"/>
<circle cx="883.1" cy="590.4" r="1.7" fill="#f47fda"/>
<circle cx="910" cy="558" r="1.7" fill="#6eae2b"/>
<circle cx="933.4" cy="582.3" r="1.7" fill="#f47fda"/>
<circle cx="974.9" cy="601.2" r="1.7" fill="#f47fda"/>
<use href="#fl_pu" x="342.8" y="576.5"/>
<use href="#fl_rd" x="373.3" y="594.7"/>
<use href="#fl_ro" x="387.0" y="567.9"/>
<use href="#fl_ma" x="400.3" y="592.1"/>
<use href="#fl_pin" x="413.9" y="543.5"/>
<use href="#fl_sa" x="435.0" y="603.3"/>
<use href="#fl_rk" x="438.7" y="571.0"/>
<use href="#fl_rp" x="460.0" y="539.6"/>
<use href="#fl_ye" x="467.4" y="580.3"/>
<use href="#fl_pu" x="493.2" y="576.7"/>
<use href="#fl_do" x="503.9" y="558.4"/>
<g transform="translate(512.7,590.3)" fill="#f8a3c6"><ellipse cx="0" cy="-5" rx="2.2" ry="4.6"/><ellipse cx="-4" cy="1" rx="4.4" ry="2.1" transform="rotate(-25)"/><ellipse cx="0" cy="4" rx="2.1" ry="4" transform="rotate(20)"/></g>
<use href="#fl_rd" x="523.1" y="594.8"/>
<use href="#fl_ro" x="537.0" y="568.8"/>
<use href="#fl_ma" x="550.3" y="591.9"/>
<use href="#fl_pin" x="565.5" y="542.8"/>
<use href="#fl_sa" x="585.0" y="603.2"/>
<use href="#fl_rk" x="588.7" y="570.9"/>
<use href="#fl_rp" x="609.9" y="539.5"/>
<use href="#fl_ye" x="617.4" y="580.2"/>
<use href="#fl_do" x="653.1" y="557.9"/>
<use href="#fl_pu" x="654.0" y="577.4"/>
<g transform="translate(663.4,593.5)" fill="#f8a3c6"><ellipse cx="0" cy="-5" rx="2.2" ry="4.6"/><ellipse cx="-4" cy="1" rx="4.4" ry="2.1" transform="rotate(-25)"/><ellipse cx="0" cy="4" rx="2.1" ry="4" transform="rotate(20)"/></g>
<use href="#fl_rd" x="682.9" y="594.7"/>
<use href="#fl_ro" x="689.5" y="570.4"/>
<use href="#fl_ro" x="697.5" y="568.4"/>
<use href="#fl_ma" x="710.0" y="591.7"/>
<use href="#fl_pin" x="724.3" y="543.0"/>
<use href="#fl_sa" x="743.8" y="604.0"/>
<use href="#fl_rk" x="748.4" y="571.0"/>
<use href="#fl_rp" x="770.5" y="539.5"/>
<use href="#fl_ye" x="778.2" y="579.7"/>
<use href="#fl_pu" x="768.0" y="577.4"/>
<use href="#fl_ro" x="811.0" y="569.6"/>
<use href="#fl_do" x="812.7" y="557.0"/>
<use href="#fl_rd" x="797.7" y="595.0"/>
<use href="#fl_ma" x="824.2" y="592.7"/>
<use href="#fl_pin" x="838.8" y="542.6"/>
<use href="#fl_ro" x="848.9" y="570.8"/>
<use href="#fl_sa" x="859.5" y="603.5"/>
<use href="#fl_rk" x="863.5" y="571.2"/>
<use href="#fl_rp" x="884.2" y="539.6"/>
<use href="#fl_ye" x="891.6" y="580.5"/>
<use href="#fl_wh" x="909.2" y="605.9"/>
<use href="#fl_do" x="927.6" y="558.0"/>
<use href="#fl_ma" x="937.3" y="594.3"/>
<use href="#fl_ro" x="963.9" y="571.2"/>
</g>
<g transform="translate(158.6,366.1)">
<use href="#gend"/>
<use href="#gtile" x="0.0" clip-path="url(#t0clip)"/>
<use href="#gtile" x="150.2"/>
<use href="#gtile" x="300.4"/>
<use href="#gtile" x="450.6"/>
<use href="#gtile" x="600.8"/>
<use href="#gtile" x="751.0"/>
</g>
<g>
<circle cx="198.9" cy="948.1" r="1.7" fill="#f26c1d"/>
<circle cx="167.9" cy="962.6" r="1.7" fill="#f47fda"/>
<circle cx="244.9" cy="951.8" r="1.7" fill="#f5d21f"/>
<path d="M274.8,926.2 q0.8,10 3,22" fill="none" stroke="#4e9b20" stroke-width="0.8"/>
<circle cx="274.8" cy="924.7" r="1.7" fill="#f5d21f"/>
<circle cx="288.1" cy="956.4" r="1.7" fill="#f47fda"/>
<circle cx="277.5" cy="962.6" r="1.7" fill="#f47fda"/>
<circle cx="308.8" cy="948.1" r="1.7" fill="#f26c1d"/>
<circle cx="315.7" cy="924.2" r="1.7" fill="#6eae2b"/>
<circle cx="339.1" cy="949.5" r="1.7" fill="#f47fda"/>
<circle cx="354.4" cy="951.8" r="1.7" fill="#f5d21f"/>
<path d="M384.3,926.2 q0.8,10 3,22" fill="none" stroke="#4e9b20" stroke-width="0.8"/>
<circle cx="384.3" cy="924.7" r="1.7" fill="#f5d21f"/>
<circle cx="397" cy="956.4" r="1.7" fill="#f47fda"/>
<circle cx="425" cy="924.2" r="1.7" fill="#6eae2b"/>
<circle cx="448" cy="948.8" r="1.7" fill="#f47fda"/>
<circle cx="461.3" cy="962.6" r="1.7" fill="#f47fda"/>
<circle cx="492.1" cy="948.1" r="1.7" fill="#f26c1d"/>
<circle cx="538.1" cy="951.8" r="1.7" fill="#f5d21f"/>
<path d="M567.8,926.2 q0.8,10 3,22" fill="none" stroke="#4e9b20" stroke-width="0.8"/>
<circle cx="567.8" cy="924.7" r="1.7" fill="#f5d21f"/>
<circle cx="581.1" cy="956.4" r="1.7" fill="#f47fda"/>
<circle cx="608.3" cy="924.2" r="1.7" fill="#6eae2b"/>
<circle cx="620.9" cy="962.6" r="1.7" fill="#f47fda"/>
<circle cx="652.4" cy="948.1" r="1.7" fill="#f26c1d"/>
<circle cx="697.9" cy="951.8" r="1.7" fill="#f5d21f"/>
<path d="M728.2,926.2 q0.8,10 3,22" fill="none" stroke="#4e9b20" stroke-width="0.8"/>
<circle cx="728.2" cy="924.7" r="1.7" fill="#f5d21f"/>
<circle cx="740.8" cy="956.4" r="1.7" fill="#f47fda"/>
<circle cx="768.6" cy="924.2" r="1.7" fill="#6eae2b"/>
<circle cx="787.5" cy="961" r="1.7" fill="#f47fda"/>
<circle cx="791.2" cy="948.8" r="1.7" fill="#f47fda"/>
<circle cx="803.2" cy="962.6" r="1.7" fill="#f47fda"/>
<circle cx="834.9" cy="948.1" r="1.7" fill="#f26c1d"/>
<circle cx="880.6" cy="951.8" r="1.7" fill="#f5d21f"/>
<path d="M910.5,926.2 q0.8,10 3,22" fill="none" stroke="#4e9b20" stroke-width="0.8"/>
<circle cx="910.5" cy="924.7" r="1.7" fill="#f5d21f"/>
<circle cx="923.1" cy="956.4" r="1.7" fill="#f47fda"/>
<circle cx="951.4" cy="924.2" r="1.7" fill="#6eae2b"/>
<circle cx="973.7" cy="948.8" r="1.7" fill="#f47fda"/>
<use href="#fl_pu" x="171.8" y="942.6"/>
<use href="#fl_rd" x="202.4" y="961.4"/>
<use href="#fl_ro" x="215.5" y="933.9"/>
<use href="#fl_ma" x="229.3" y="958.7"/>
<use href="#fl_pin" x="243.7" y="909.7"/>
<use href="#fl_sa" x="261" y="969.5"/>
<use href="#fl_rk" x="267.2" y="936.8"/>
<use href="#fl_rp" x="289" y="905.8"/>
<use href="#fl_pu" x="281.7" y="943"/>
<use href="#fl_ye" x="296.6" y="946.5"/>
<use href="#fl_ro" x="324.2" y="935"/>
<use href="#fl_do" x="331.1" y="923.5"/>
<use href="#fl_rd" x="311.5" y="961.4"/>
<use href="#fl_ma" x="339.6" y="958"/>
<use href="#fl_pin" x="352.2" y="909.5"/>
<use href="#fl_ro" x="365.7" y="935"/>
<use href="#fl_rk" x="376.8" y="937.3"/>
<use href="#fl_rp" x="398.6" y="905.8"/>
<use href="#fl_ye" x="405.9" y="946.5"/>
<use href="#fl_sa" x="373.3" y="969.5"/>
<use href="#fl_wh" x="423.2" y="971.8"/>
<use href="#fl_do" x="441.8" y="924.2"/>
<use href="#fl_ma" x="452.6" y="959.1"/>
<use href="#fl_pu" x="465.2" y="942.6"/>
<use href="#fl_ro" x="479.5" y="936.1"/>
<use href="#fl_rd" x="495.8" y="961.4"/>
<use href="#fl_ro" x="508.9" y="933.9"/>
<use href="#fl_ma" x="522.7" y="958.7"/>
<use href="#fl_pin" x="536.5" y="909.7"/>
<use href="#fl_rk" x="561.5" y="936.8"/>
<use href="#fl_sa" x="557.6" y="969.5"/>
<use href="#fl_rp" x="582.3" y="905.8"/>
<use href="#fl_ye" x="589.4" y="946.5"/>
<use href="#fl_do" x="625.5" y="924.2"/>
<use href="#fl_pu" x="625.5" y="942.6"/>
<g transform="translate(634.7,959.1)" fill="#f8a3c6"><ellipse cx="0" cy="-5" rx="2.2" ry="4.6"/><ellipse cx="-4" cy="1" rx="4.4" ry="2.1" transform="rotate(-25)"/><ellipse cx="0" cy="4" rx="2.1" ry="4" transform="rotate(20)"/></g>
<use href="#fl_rd" x="655.4" y="961.4"/>
<use href="#fl_ro" x="662.2" y="936"/>
<use href="#fl_ro" x="670.2" y="934"/>
<use href="#fl_ma" x="682.5" y="958.7"/>
<use href="#fl_pin" x="696.7" y="909.7"/>
<use href="#fl_rk" x="720.8" y="936.8"/>
<use href="#fl_sa" x="716.9" y="969.5"/>
<use href="#fl_rp" x="742.2" y="905.8"/>
<use href="#fl_ye" x="749.6" y="946.5"/>
<use href="#fl_wh" x="767.5" y="971.8"/>
<use href="#fl_do" x="784.4" y="924"/>
<use href="#fl_pu" x="806.6" y="942.6"/>
<use href="#fl_ro" x="822.7" y="936.1"/>
<g transform="translate(794,959.1)" fill="#f8a3c6"><ellipse cx="0" cy="-5" rx="2.2" ry="4.6"/><ellipse cx="-4" cy="1" rx="4.4" ry="2.1" transform="rotate(-25)"/><ellipse cx="0" cy="4" rx="2.1" ry="4" transform="rotate(20)"/></g>
<use href="#fl_rd" x="837.6" y="961.4"/>
<use href="#fl_ro" x="851.4" y="933.9"/>
<use href="#fl_ma" x="864.8" y="958.7"/>
<use href="#fl_pin" x="879" y="909.7"/>
<use href="#fl_rk" x="903.1" y="936.8"/>
<use href="#fl_sa" x="899.2" y="969.5"/>
<use href="#fl_rp" x="924.5" y="905.8"/>
<use href="#fl_ye" x="931.8" y="946.5"/>
<use href="#fl_wh" x="949.1" y="971.8"/>
<use href="#fl_do" x="967.5" y="924.2"/>
<use href="#fl_ma" x="977.1" y="960.3"/>
<use href="#fl_ro" x="999.6" y="936.1"/>
</g>
<g id="faucet">
<path d="M88.6,26.4 Q88,31.5 88.6,37.2 L92,37.5 Q104,36.4 120,35.4 L120,27.8 Q104,27.2 92,25.9 Z" fill="url(#chromeV)"/>
<path d="M167.2,25.8 Q168,31.5 167.2,37.5 L164,37.7 Q152,36.4 136,35.4 L136,27.8 Q152,27.2 164,25.5 Z" fill="url(#chromeV)"/>
<rect x="88.2" y="26.3" width="2.2" height="10.9" rx="1" fill="#7d8081"/>
<rect x="165.6" y="25.8" width="2.2" height="11.7" rx="1" fill="#6f7273"/>
<rect x="121.6" y="34" width="11.8" height="20" fill="url(#chrome)"/>
<ellipse cx="127.8" cy="30" rx="8.6" ry="7.2" fill="url(#chromeV)"/>
<ellipse cx="126.5" cy="27.8" rx="3.4" ry="2.2" fill="#ffffff" opacity="0.7"/>
<ellipse cx="128" cy="24" rx="4.6" ry="1.4" fill="#8b8e8f"/>
<rect x="115.2" y="52.6" width="22.4" height="5.9" rx="1.5" fill="url(#chrome2)"/>
<rect x="115.2" y="56.6" width="22.4" height="1.6" fill="#6e7172" opacity="0.7"/>
<path d="M116.8,58.3 L137.4,58.3 L141.1,77 L113.8,77 Z" fill="url(#chrome)"/>
<rect x="111" y="76.4" width="33.6" height="8.6" rx="1" fill="url(#chrome2)"/>
<rect x="111" y="76.4" width="33.6" height="2" fill="#eceeee" opacity="0.7"/>
<path d="M104.8,88 Q104.8,84.6 108,84.6 L146.4,84.6 Q149.6,84.6 149.6,88 L149.6,128 Q149.4,140 146.6,148 L110.9,148 Q105,140 104.8,128 Z" fill="url(#chrome)"/>
<rect x="105.2" y="86.2" width="44" height="2.2" fill="#5e6162" opacity="0.8"/>
<path d="M111.5,148 L111.5,120 Q113,108 127.6,104.5 Q142,108 143.5,120 L143.5,148 L138.5,148 L138,123 Q136,112.5 127.6,110.5 Q119,112.5 117,123 L116.5,148 Z" fill="#dfe2e2" opacity="0.9"/>
<path d="M117,148 L117.4,124 Q119,113.5 127.6,111.5 Q136,113.5 137.6,124 L138,148 Z" fill="#6f7273"/>
<path d="M121.5,148 L122,126 Q123,119 127.6,118 Q132,119 133,126 L133.5,148 Z" fill="#c9cccc"/>
<path d="M125,148 L125.4,128 Q127.6,124 129.8,128 L130.2,148 Z" fill="#9b9e9f"/>
<path d="M110.2,92 Q109,112 111.5,136" stroke="#5f6263" stroke-width="3.2" fill="none" opacity="0.75"/>
<path d="M127.6,104.5 L127.6,96" stroke="#6e7172" stroke-width="1.2" opacity="0.6"/>
</g>
<g id="nut">
<rect x="106.6" y="155" width="43.2" height="7" fill="#1e8a2b"/>
<rect x="101.2" y="147.4" width="54" height="9.9" rx="3" fill="url(#greeng)"/>
<rect x="104.5" y="147.8" width="0.9" height="9" fill="#1f8a2c" opacity="0.55"/>
<rect x="109.2" y="147.8" width="0.9" height="9" fill="#1f8a2c" opacity="0.55"/>
<rect x="114.0" y="147.8" width="0.9" height="9" fill="#1f8a2c" opacity="0.55"/>
<rect x="118.8" y="147.8" width="0.9" height="9" fill="#1f8a2c" opacity="0.55"/>
<rect x="123.5" y="147.8" width="0.9" height="9" fill="#1f8a2c" opacity="0.55"/>
<rect x="128.2" y="147.8" width="0.9" height="9" fill="#1f8a2c" opacity="0.55"/>
<rect x="133.0" y="147.8" width="0.9" height="9" fill="#1f8a2c" opacity="0.55"/>
<rect x="137.8" y="147.8" width="0.9" height="9" fill="#1f8a2c" opacity="0.55"/>
<rect x="142.5" y="147.8" width="0.9" height="9" fill="#1f8a2c" opacity="0.55"/>
<rect x="147.2" y="147.8" width="0.9" height="9" fill="#1f8a2c" opacity="0.55"/>
<rect x="152.0" y="147.8" width="0.9" height="9" fill="#1f8a2c" opacity="0.55"/>
<rect x="105.4" y="200" width="46.2" height="9.4" fill="#222222"/>
<path d="M94.9,171 Q94.9,161.4 104,161.4 L153.2,161.4 Q162.3,161.4 162.3,171 L162.3,202.7 L94.9,202.7 Z" fill="url(#nutg)"/>
<rect x="98.5" y="166" width="1.5" height="30" fill="#444" opacity="0.75"/>
<rect x="103.5" y="166" width="1.5" height="30" fill="#444" opacity="0.75"/>
<rect x="108.4" y="166" width="1.5" height="30" fill="#444" opacity="0.75"/>
<rect x="113.3" y="166" width="1.5" height="30" fill="#444" opacity="0.75"/>
<rect x="118.3" y="166" width="1.5" height="30" fill="#444" opacity="0.75"/>
<rect x="123.2" y="166" width="1.5" height="30" fill="#444" opacity="0.75"/>
<rect x="128.2" y="166" width="1.5" height="30" fill="#444" opacity="0.75"/>
<rect x="133.2" y="166" width="1.5" height="30" fill="#444" opacity="0.75"/>
<rect x="138.1" y="166" width="1.5" height="30" fill="#444" opacity="0.75"/>
<rect x="143.1" y="166" width="1.5" height="30" fill="#444" opacity="0.75"/>
<rect x="148.0" y="166" width="1.5" height="30" fill="#444" opacity="0.75"/>
<rect x="152.9" y="166" width="1.5" height="30" fill="#444" opacity="0.75"/>
<rect x="157.9" y="166" width="1.5" height="30" fill="#444" opacity="0.75"/>
<rect x="94.9" y="196.4" width="67.4" height="6.4" fill="#383838"/>
<rect x="94.9" y="195.8" width="67.4" height="1" fill="#1a1a1a"/>
</g>
<g id="ycon">
<rect x="99.5" y="337" width="60.4" height="27.2" rx="2.5" fill="url(#silv)"/>
<rect x="103.0" y="338.5" width="2.2" height="22" fill="#9c9d9f" opacity="0.85"/>
<rect x="105.2" y="338.5" width="1.6" height="22" fill="#e6e7e9" opacity="0.8"/>
<rect x="110.3" y="338.5" width="2.2" height="22" fill="#9c9d9f" opacity="0.85"/>
<rect x="112.5" y="338.5" width="1.6" height="22" fill="#e6e7e9" opacity="0.8"/>
<rect x="117.6" y="338.5" width="2.2" height="22" fill="#9c9d9f" opacity="0.85"/>
<rect x="119.8" y="338.5" width="1.6" height="22" fill="#e6e7e9" opacity="0.8"/>
<rect x="124.9" y="338.5" width="2.2" height="22" fill="#9c9d9f" opacity="0.85"/>
<rect x="127.1" y="338.5" width="1.6" height="22" fill="#e6e7e9" opacity="0.8"/>
<rect x="132.2" y="338.5" width="2.2" height="22" fill="#9c9d9f" opacity="0.85"/>
<rect x="134.4" y="338.5" width="1.6" height="22" fill="#e6e7e9" opacity="0.8"/>
<rect x="139.5" y="338.5" width="2.2" height="22" fill="#9c9d9f" opacity="0.85"/>
<rect x="141.7" y="338.5" width="1.6" height="22" fill="#e6e7e9" opacity="0.8"/>
<rect x="146.8" y="338.5" width="2.2" height="22" fill="#9c9d9f" opacity="0.85"/>
<rect x="149.0" y="338.5" width="1.6" height="22" fill="#e6e7e9" opacity="0.8"/>
<rect x="154.1" y="338.5" width="2.2" height="22" fill="#9c9d9f" opacity="0.85"/>
<rect x="156.3" y="338.5" width="1.6" height="22" fill="#e6e7e9" opacity="0.8"/>
<rect x="99.5" y="337" width="60.4" height="3.4" fill="#77787a" opacity="0.75"/>
<rect x="99.5" y="359.8" width="60.4" height="4.4" rx="2" fill="#e4e5e7"/>
<use href="#yarm" transform="matrix(-0.70711 0.70711 0.70711 0.70711 127.4 390.9)"/>
<use href="#yarm" transform="matrix(0.70711 0.70711 -0.70711 0.70711 129.6 390.9)"/>
<path d="M104,384 L153,384 L153,392 L128.5,419 L104,392 Z" fill="#5f6c76"/>
<path d="M121.5,417 L135.5,417 L133,431.5 L130,431.5 L128.5,429 L127,431.5 L124,431.5 Z" fill="#616d77"/>
<circle cx="128.5" cy="427" r="1.3" fill="#e8eef2"/>
<rect x="103.9" y="363.8" width="50" height="25.6" fill="url(#neckg)"/>
<rect x="103.9" y="369.5" width="50" height="1.7" fill="#4d5861" opacity="0.75"/>
<rect x="103.9" y="371.2" width="50" height="1" fill="#8a97a1" opacity="0.6"/>
<rect x="103.9" y="374.5" width="50" height="1.7" fill="#4d5861" opacity="0.75"/>
<rect x="103.9" y="376.2" width="50" height="1" fill="#8a97a1" opacity="0.6"/>
<rect x="103.9" y="379.5" width="50" height="1.7" fill="#4d5861" opacity="0.75"/>
<rect x="103.9" y="381.2" width="50" height="1" fill="#8a97a1" opacity="0.6"/>
<rect x="103.9" y="385" width="50" height="4.6" fill="#5f6b75"/>
<circle cx="108.6" cy="368" r="1.1" fill="#4a545c"/><circle cx="149.2" cy="368" r="1.1" fill="#4a545c"/>
<use href="#ylever" transform="matrix(-0.70711 0.70711 0.70711 0.70711 127.4 390.9)"/>
<use href="#ylever" transform="matrix(0.70711 0.70711 -0.70711 0.70711 129.6 390.9)"/>
</g>
<g id="timer">
<rect x="197.5" y="205.6" width="4.5" height="4" rx="1" fill="#9a9a9a"/><rect x="217.5" y="205.6" width="4.5" height="4" rx="1" fill="#9a9a9a"/>
<path d="M99.9,214.3 Q104.4,209.0 111.4,209.0 L271.1,209.0 Q278.1,209.0 282.4,214.6 L292.4,227.7 Q296.7,233.3 296.7,240.3 L296.7,306.0 Q296.7,313.0 292.5,318.6 L283.8,330.4 Q279.6,336.0 272.6,336.0 L110.5,336.0 Q103.5,336.0 99.3,330.4 L87.0,314.1 Q82.8,308.5 82.8,301.5 L82.8,241.4 Q82.8,234.4 87.3,229.1 Z" fill="url(#yel)"/>
<path d="M100.3,220.9 Q103.4,217.0 108.4,217.0 L270.6,217.0 Q275.6,217.0 278.9,220.8 L287.2,230.6 Q290.5,234.4 290.5,239.4 L290.5,307.0 Q290.5,312.0 287.3,315.9 L278.8,326.1 Q275.6,330.0 270.6,330.0 L110.0,330.0 Q105.0,330.0 102.0,326.0 L93.5,314.4 Q90.5,310.4 90.5,305.4 L90.5,238.2 Q90.5,233.2 93.6,229.3 Z" fill="#3a2e0a"/>
<path d="M101.0,221.6 Q103.8,218.1 108.3,218.1 L270.7,218.1 Q275.2,218.1 278.1,221.5 L286.5,231.4 Q289.4,234.8 289.4,239.3 L289.4,307.1 Q289.4,311.6 286.6,315.1 L278.0,325.5 Q275.2,329.0 270.7,329.0 L110.0,329.0 Q105.5,329.0 102.8,325.4 L94.3,313.6 Q91.6,310.0 91.6,305.5 L91.6,238.1 Q91.6,233.6 94.4,230.1 Z" fill="#131313"/>
<clipPath id="facecp"><path d="M101.0,221.6 Q103.8,218.1 108.3,218.1 L270.7,218.1 Q275.2,218.1 278.1,221.5 L286.5,231.4 Q289.4,234.8 289.4,239.3 L289.4,307.1 Q289.4,311.6 286.6,315.1 L278.0,325.5 Q275.2,329.0 270.7,329.0 L110.0,329.0 Q105.5,329.0 102.8,325.4 L94.3,313.6 Q91.6,310.0 91.6,305.5 L91.6,238.1 Q91.6,233.6 94.4,230.1 Z"/></clipPath>
<path d="M85,215 L238.5,215 L153,332 L85,332 Z" fill="#303030" clip-path="url(#facecp)"/>
<path d="M100,218 L238,218 L232,226 L96,226 Z" fill="#3a3a3a" opacity="0.6" clip-path="url(#facecp)"/>
<rect x="295.4" y="262" width="2" height="7" rx="1" fill="#c8950f"/><rect x="295.4" y="284" width="2" height="6" rx="1" fill="#c8950f"/><rect x="82" y="262" width="2" height="7" rx="1" fill="#c8950f"/>
<rect x="112.6" y="235" width="102.8" height="76.3" rx="4" fill="#1f1f1f"/>
<rect x="114.2" y="236.6" width="99.6" height="73.1" rx="3" fill="url(#lcdg)"/>
<g fill="#17191a" opacity="0.98" font-family="&quot;Liberation Sans&quot;, sans-serif">
<text x="119" y="245.9" font-size="6.8" font-weight="normal" font-style="normal" textLength="14.3" lengthAdjust="spacingAndGlyphs">NOW</text>
<text x="141.6" y="253.6" font-size="19.4" font-weight="bold" font-style="italic" textLength="29.6" lengthAdjust="spacingAndGlyphs">18:28</text>
<text x="202.9" y="253.3" font-size="4.6" font-weight="normal" font-style="normal" textLength="4.9" lengthAdjust="spacingAndGlyphs">P4</text>
<text x="119" y="262.4" font-size="5.0" font-weight="normal" font-style="normal" textLength="25.6" lengthAdjust="spacingAndGlyphs">HOW LONG</text>
<text x="170.4" y="262.4" font-size="5.0" font-weight="normal" font-style="normal" textLength="27.2" lengthAdjust="spacingAndGlyphs">HOW OFTEN</text>
<text x="136.6" y="281.1" font-size="19.8" font-weight="bold" font-style="italic" textLength="7.8" lengthAdjust="spacingAndGlyphs">3</text>
<text x="146.8" y="280" font-size="5.2" font-weight="normal" font-style="normal" textLength="7.2" lengthAdjust="spacingAndGlyphs">MIN</text>
<text x="175.2" y="281.1" font-size="19.8" font-weight="bold" font-style="italic" textLength="12.6" lengthAdjust="spacingAndGlyphs">15</text>
<text x="190" y="280" font-size="5.2" font-weight="normal" font-style="normal" textLength="7.9" lengthAdjust="spacingAndGlyphs">DAY</text>
<text x="120.2" y="289.4" font-size="5.0" font-weight="normal" font-style="normal" textLength="13.4" lengthAdjust="spacingAndGlyphs">START</text>
<text x="138.6" y="289.4" font-size="5.0" font-weight="normal" font-style="normal" textLength="11" lengthAdjust="spacingAndGlyphs">TIME</text>
<text x="167.1" y="289.4" font-size="5.0" font-weight="normal" font-style="normal" textLength="11.6" lengthAdjust="spacingAndGlyphs">NEXT</text>
<text x="182.6" y="289.4" font-size="5.0" font-weight="normal" font-style="normal" textLength="26.1" lengthAdjust="spacingAndGlyphs">IRRIGATION</text>
<text x="123.6" y="306.9" font-size="19.0" font-weight="bold" font-style="italic" textLength="33.4" lengthAdjust="spacingAndGlyphs">13:00</text>
<text x="187.8" y="306.9" font-size="19.0" font-weight="bold" font-style="italic" textLength="8.2" lengthAdjust="spacingAndGlyphs">2</text>
<text x="201.2" y="299.5" font-size="5.2" font-weight="normal" font-style="normal" textLength="7.7" lengthAdjust="spacingAndGlyphs">DAY</text>
</g>
<g stroke="#2a2d2c" stroke-width="0.9"><line x1="117.1" y1="256.4" x2="210" y2="256.4"/><line x1="117.1" y1="283.1" x2="210" y2="283.1"/><line x1="163.3" y1="259.1" x2="163.3" y2="306.9"/><line x1="174.6" y1="239.3" x2="174.6" y2="253.6"/></g>
<g fill="#17191a"><rect x="195.2" y="242.2" width="1.4" height="2.6"/><rect x="196.4" y="240.5" width="12" height="6" rx="0.8"/></g><g fill="#a4a99d"><rect x="197.6" y="241.7" width="2.4" height="3.6"/><rect x="201.2" y="241.7" width="2.4" height="3.6"/><rect x="204.8" y="241.7" width="2.4" height="3.6"/></g>
<rect x="233.9" y="237" width="35.5" height="14.5" rx="7.25" fill="url(#btn)" stroke="#6b5208" stroke-width="0.7"/>
<circle cx="241.4" cy="244.25" r="6" fill="#e9c226" stroke="#b48c0e" stroke-width="0.6"/>
<circle cx="262" cy="244.25" r="6" fill="#e9c226" stroke="#b48c0e" stroke-width="0.6"/>
<rect x="233.9" y="257" width="35.5" height="14.5" rx="7.25" fill="url(#btn)" stroke="#6b5208" stroke-width="0.7"/>
<circle cx="241.4" cy="264.25" r="6" fill="#e9c226" stroke="#b48c0e" stroke-width="0.6"/>
<circle cx="262" cy="264.25" r="6" fill="#e9c226" stroke="#b48c0e" stroke-width="0.6"/>
<rect x="233.9" y="276.8" width="35.5" height="14.5" rx="7.25" fill="url(#btn)" stroke="#6b5208" stroke-width="0.7"/>
<circle cx="241.4" cy="284.05" r="6" fill="#e9c226" stroke="#b48c0e" stroke-width="0.6"/>
<circle cx="262" cy="284.05" r="6" fill="#e9c226" stroke="#b48c0e" stroke-width="0.6"/>
<rect x="233.9" y="296.7" width="35.5" height="14.5" rx="7.25" fill="url(#btn)" stroke="#6b5208" stroke-width="0.7"/>
<rect x="236" y="298.3" width="31.3" height="11.3" rx="5.6" fill="#e9c226" stroke="#b48c0e" stroke-width="0.6"/>
<text x="240.9" y="246.4" font-size="6" fill="#3a2e08" opacity="0.98" text-anchor="middle" textLength="8.0" lengthAdjust="spacingAndGlyphs">SET</text>
<text x="261.5" y="246.4" font-size="6" fill="#3a2e08" opacity="0.98" text-anchor="middle" textLength="7.0" lengthAdjust="spacingAndGlyphs">OK</text>
<text x="241.2" y="286.6" font-size="6" fill="#3a2e08" opacity="0.98" text-anchor="middle" textLength="7.2" lengthAdjust="spacingAndGlyphs">ON</text>
<text x="261.0" y="286.6" font-size="6" fill="#3a2e08" opacity="0.98" text-anchor="middle" textLength="9.4" lengthAdjust="spacingAndGlyphs">OFF</text>
<text x="251.6" y="306.6" font-size="6" fill="#3a2e08" opacity="0.98" text-anchor="middle" textLength="10.6" lengthAdjust="spacingAndGlyphs">ESC</text>
<path d="M241.4,261.3 L244.8,266.9 L238,266.9 Z M262,267.4 L258.6,261.6 L265.4,261.6 Z" fill="#1b1b1b"/>
<path d="M241.6,235 Q242,230.6 247.4,230.4 M256,230.4 Q261.4,230.6 261.8,235" fill="none" stroke="#e2b616" stroke-width="0.9"/>
<rect x="250.2" y="229" width="3.2" height="3.4" rx="0.5" fill="#e2b616"/><path d="M250.9,229 Q250.9,227 251.8,227 Q252.7,227 252.7,229" fill="none" stroke="#e2b616" stroke-width="0.6"/>
</g>
<g id="inset">
<circle cx="688.6" cy="177.7" r="116.6" fill="#515c2f"/>
<g clip-path="url(#circ)">
<rect x="571.0" y="60.099999999999994" width="235.2" height="235.2" fill="url(#bg4)"/>
<rect x="571.0" y="60.099999999999994" width="235.2" height="235.2" fill="url(#bg1)"/>
<rect x="571.0" y="60.099999999999994" width="235.2" height="235.2" fill="url(#bg2)"/>
<rect x="571.0" y="60.099999999999994" width="235.2" height="235.2" fill="url(#bg3)"/>
<path d="M665.6,175.2 L624.7,41.3 L608.2,47.5 L592.6,55.7 L578.2,65.8 L565.2,77.7 L553.7,91.0 L544.1,105.7 L536.3,121.5 L530.6,138.2 L527.0,155.4 L525.6,173.0 L526.4,190.5 L529.5,207.9 Z" fill="url(#spr1)" filter="url(#blur2)"/>
<g filter="url(#blur1)"><line x1="647.1" y1="151.6" x2="601.8" y2="93.7" stroke="#ffffff" stroke-width="1.2" opacity="0.17"/><line x1="658.1" y1="158.5" x2="613.5" y2="59.5" stroke="#ffffff" stroke-width="0.9" opacity="0.11"/><line x1="637.6" y1="179.5" x2="540.2" y2="194.3" stroke="#ffffff" stroke-width="1.1" opacity="0.17"/><line x1="649.1" y1="147.8" x2="599.4" y2="65.2" stroke="#ffffff" stroke-width="1.1" opacity="0.18"/><line x1="647.1" y1="169.4" x2="548.2" y2="138.7" stroke="#ffffff" stroke-width="1.2" opacity="0.12"/><line x1="652.0" y1="140.7" x2="625.8" y2="74.1" stroke="#ffffff" stroke-width="1.3" opacity="0.20"/><line x1="628.5" y1="166.0" x2="563.9" y2="150.1" stroke="#ffffff" stroke-width="1.4" opacity="0.14"/><line x1="628.3" y1="177.7" x2="575.9" y2="181.2" stroke="#ffffff" stroke-width="0.7" opacity="0.11"/><line x1="638.2" y1="178.2" x2="550.0" y2="187.8" stroke="#ffffff" stroke-width="0.9" opacity="0.15"/><line x1="645.9" y1="158.6" x2="578.2" y2="101.6" stroke="#ffffff" stroke-width="1.2" opacity="0.21"/><line x1="628.7" y1="164.3" x2="543.0" y2="139.0" stroke="#ffffff" stroke-width="1.6" opacity="0.17"/><line x1="646.0" y1="143.9" x2="594.9" y2="62.3" stroke="#ffffff" stroke-width="1.5" opacity="0.16"/><line x1="643.6" y1="169.8" x2="542.7" y2="144.8" stroke="#ffffff" stroke-width="1.2" opacity="0.12"/><line x1="650.6" y1="141.6" x2="610.7" y2="52.4" stroke="#ffffff" stroke-width="0.7" opacity="0.19"/><line x1="648.8" y1="162.0" x2="587.2" y2="113.6" stroke="#ffffff" stroke-width="1.4" opacity="0.20"/><line x1="653.5" y1="146.1" x2="632.2" y2="94.6" stroke="#ffffff" stroke-width="1.3" opacity="0.13"/><line x1="626.0" y1="174.8" x2="555.3" y2="174.2" stroke="#ffffff" stroke-width="1.6" opacity="0.12"/><line x1="652.3" y1="147.0" x2="628.8" y2="96.8" stroke="#ffffff" stroke-width="0.8" opacity="0.14"/><line x1="645.7" y1="167.1" x2="584.9" y2="142.3" stroke="#ffffff" stroke-width="1.5" opacity="0.12"/><line x1="628.1" y1="178.9" x2="562.2" y2="185.5" stroke="#ffffff" stroke-width="1.1" opacity="0.15"/><line x1="636.3" y1="164.8" x2="559.1" y2="137.5" stroke="#ffffff" stroke-width="1.2" opacity="0.21"/><line x1="641.9" y1="161.3" x2="561.3" y2="113.9" stroke="#ffffff" stroke-width="0.8" opacity="0.12"/><line x1="636.4" y1="178.9" x2="554.1" y2="189.3" stroke="#ffffff" stroke-width="0.6" opacity="0.14"/><line x1="648.8" y1="167.5" x2="560.3" y2="127.0" stroke="#ffffff" stroke-width="1.2" opacity="0.09"/><line x1="639.2" y1="165.2" x2="554.4" y2="132.9" stroke="#ffffff" stroke-width="1.0" opacity="0.18"/><line x1="647.5" y1="171.4" x2="579.5" y2="157.0" stroke="#ffffff" stroke-width="1.3" opacity="0.21"/></g>
<path d="M665.6,173.2 L570.9,182.7 L573.0,196.6 L665.6,178.2 Z" fill="#ffffff" opacity="0.8" filter="url(#blur2)"/>
<circle cx="659.6" cy="175.2" r="9" fill="#ffffff" opacity="0.85" filter="url(#blur2)"/>
<g transform="translate(665.6,175.2) rotate(22.9) translate(-2,0) scale(1.07)">
<rect x="90" y="-8.8" width="72" height="17.6" fill="url(#hose)"/>
<rect x="54" y="-10.6" width="38" height="21.2" fill="url(#brass)"/>
<path d="M57,-11.4 L67,-10 L67,10 L57,11.4 Z" fill="url(#brass2)"/>
<rect x="66.2" y="-10.4" width="1.6" height="20.8" fill="#6b5820" opacity="0.7"/>
<path d="M68.5,-11.4 L78.5,-10 L78.5,10 L68.5,11.4 Z" fill="url(#brass2)"/>
<rect x="77.7" y="-10.4" width="1.6" height="20.8" fill="#6b5820" opacity="0.7"/>
<path d="M80,-11.4 L90,-10 L90,10 L80,11.4 Z" fill="url(#brass2)"/>
<rect x="89.2" y="-10.4" width="1.6" height="20.8" fill="#6b5820" opacity="0.7"/>
<rect x="22" y="-15" width="33" height="30" rx="2" fill="url(#brass)"/>
<rect x="23" y="-15" width="0.8" height="30" fill="#7a6426" opacity="0.45"/>
<rect x="25" y="-15" width="0.8" height="30" fill="#7a6426" opacity="0.45"/>
<rect x="27" y="-15" width="0.8" height="30" fill="#7a6426" opacity="0.45"/>
<rect x="29" y="-15" width="0.8" height="30" fill="#7a6426" opacity="0.45"/>
<rect x="31" y="-15" width="0.8" height="30" fill="#7a6426" opacity="0.45"/>
<rect x="33" y="-15" width="0.8" height="30" fill="#7a6426" opacity="0.45"/>
<rect x="35" y="-15" width="0.8" height="30" fill="#7a6426" opacity="0.45"/>
<rect x="37" y="-15" width="0.8" height="30" fill="#7a6426" opacity="0.45"/>
<rect x="39" y="-15" width="0.8" height="30" fill="#7a6426" opacity="0.45"/>
<rect x="41" y="-15" width="0.8" height="30" fill="#7a6426" opacity="0.45"/>
<rect x="43" y="-15" width="0.8" height="30" fill="#7a6426" opacity="0.45"/>
<rect x="45" y="-15" width="0.8" height="30" fill="#7a6426" opacity="0.45"/>
<rect x="47" y="-15" width="0.8" height="30" fill="#7a6426" opacity="0.45"/>
<rect x="49" y="-15" width="0.8" height="30" fill="#7a6426" opacity="0.45"/>
<rect x="51" y="-15" width="0.8" height="30" fill="#7a6426" opacity="0.45"/>
<rect x="53" y="-15" width="0.8" height="30" fill="#7a6426" opacity="0.45"/>
<rect x="37.6" y="-15.2" width="2.2" height="30.4" fill="#3d3212"/>
<path d="M1,-10.5 L23,-13 L23,13 L1,11.5 Q-1.5,0.5 1,-10.5 Z" fill="url(#brass2)"/>
<path d="M1,-10.5 Q-1.5,0.5 1,11.5 L4,11.7 Q1.8,0.5 4,-10.8 Z" fill="#efe6b4"/>
</g>
</g>
<circle cx="688.6" cy="177.7" r="115.6" fill="none" stroke="#16cde0" stroke-width="4"/>
</g>
</svg>
</body></html>
